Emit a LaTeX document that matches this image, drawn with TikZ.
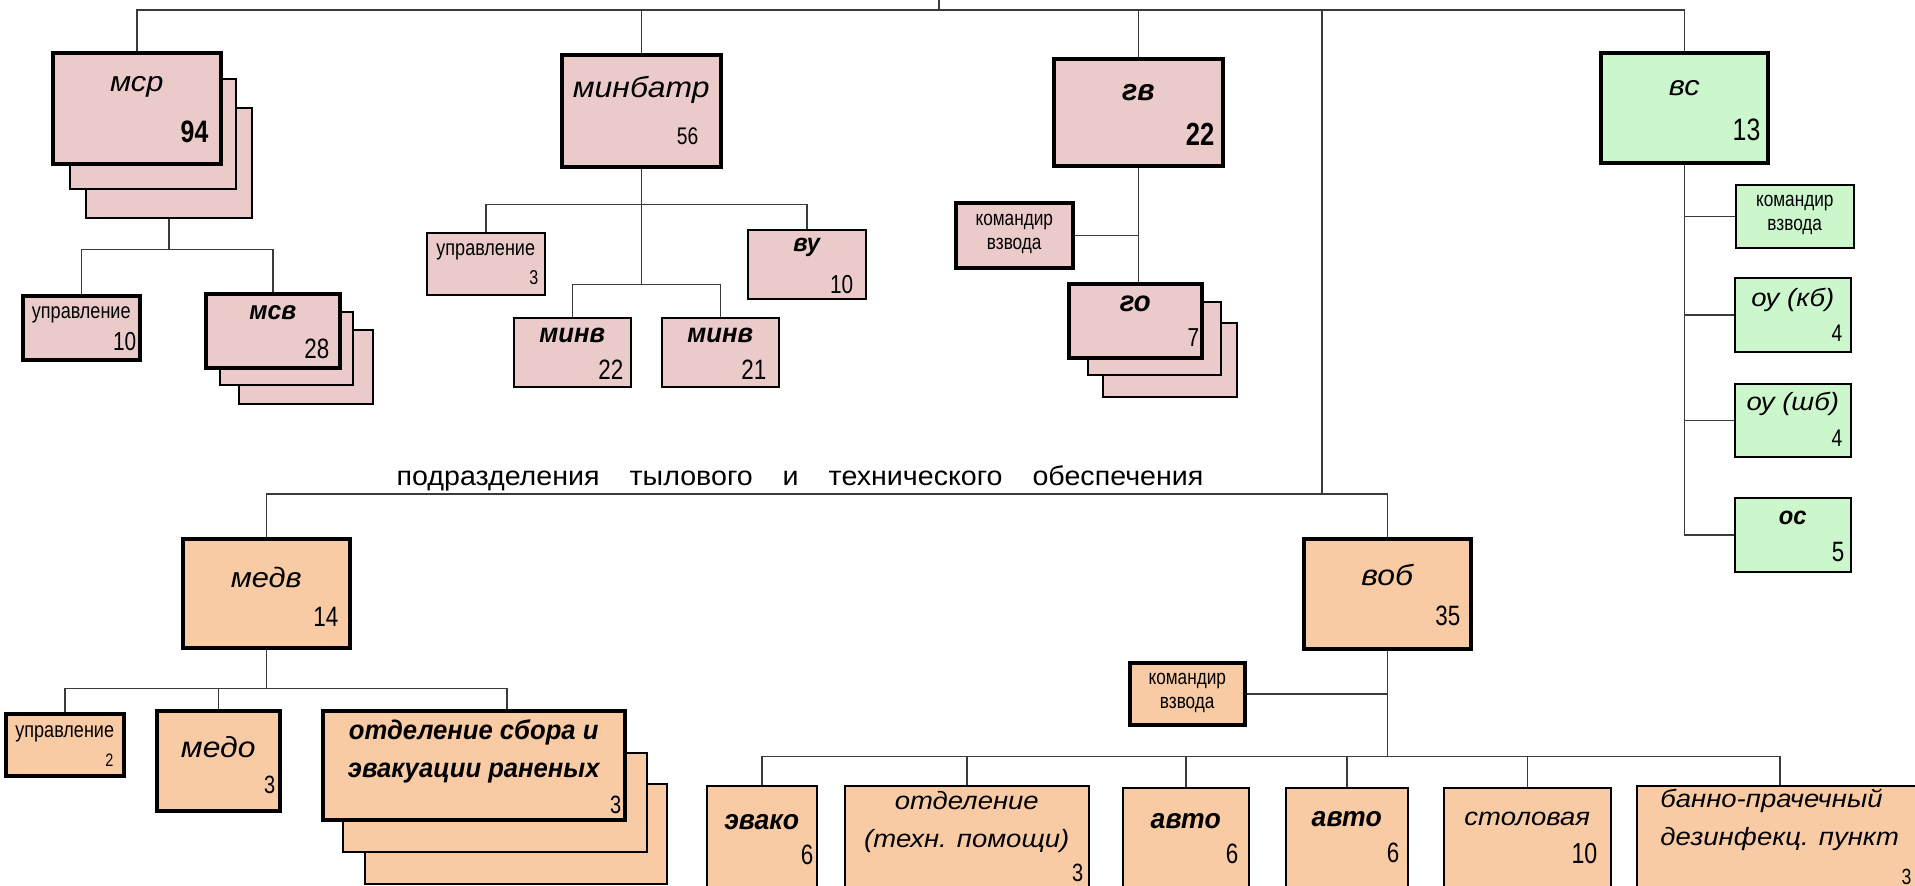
\documentclass[tikz,border=0pt]{standalone}
\usepackage{fontspec}
\setmainfont{Liberation Sans}
\usetikzlibrary{positioning, calc}
\newfontfamily\lblfont[FakeStretch=1.1]{Liberation Sans}
\newfontfamily\boldfont[FakeStretch=0.95]{Liberation Sans}
\newfontfamily\numfont[FakeStretch=0.8]{Liberation Sans}
\newfontfamily\smallfont[FakeStretch=0.82]{Liberation Sans}
\newfontfamily\rearfont[FakeStretch=1.06]{Liberation Sans}
\newcommand{\tlab}[1]{\lblfont\itshape\fontsize{#1}{38}\selectfont}
\newcommand{\tbold}[1]{\boldfont\bfseries\itshape\fontsize{#1}{38}\selectfont}
\newcommand{\tnum}[1]{\numfont\fontsize{#1}{#1}\selectfont}
\newcommand{\tsmall}[1]{\smallfont\fontsize{#1}{24}\selectfont}
\definecolor{pinkfill}{HTML}{EBCACA}
\definecolor{peachfill}{HTML}{F9CBA5}
\definecolor{mintfill}{HTML}{CCF7CC}
\definecolor{linegray}{HTML}{3A3A3A}

\begin{document}
\begin{tikzpicture}[x=1pt, y=-1pt,
    box/.style={draw, line width=1.5pt, anchor=north west, inner sep=0pt},
    heavy/.style={line width=3.5pt},
    pinkbox/.style={fill=pinkfill},
    peachbox/.style={fill=peachfill},
    mintbox/.style={fill=mintfill},
    sz/.style 2 args={minimum width=#1pt, minimum height=#2pt},
    ttl/.style={anchor=center, yshift=-#1pt},
    cnt/.style 2 args={anchor=east, xshift=-#1pt, yshift=#2pt},
    link/.style={draw=linegray, line width=1.5pt},
    every label/.style={inner sep=0pt}]
\path[use as bounding box, fill=white] (0,0) rectangle (1915,886);

% first row
\node[box, pinkbox, sz={166}{110}] (msr3) at (85,107) {};
\node[box, pinkbox, sz={166}{110}] (msr2) at (69,78) {};
\node[box, heavy, pinkbox, sz={168}{111},
    label={[ttl=36, font=\tlab{28}]north:мср},
    label={[cnt={14}{34}, font=\tnum{31}\bfseries]south east:94}] (msr) at (51,51) {};
\node[box, heavy, pinkbox, sz={159}{112},
    label={[ttl=37, font=\tlab{29}]north:минбатр},
    label={[cnt={24}{32}, font=\tnum{24}]south east:56}] (minbatr) at (560,53) {};
\node[box, heavy, pinkbox, sz={169}{107},
    label={[ttl=36, font=\tbold{30}]north:гв},
    label={[cnt={10}{33}, font=\tnum{32}\bfseries]south east:22}] (gv) at (1052,57) {};
\node[box, heavy, mintbox, sz={167}{110},
    label={[ttl=37, font=\tlab{28}]north:вс},
    label={[cnt={9}{35}, font=\tnum{31}]south east:13}] (vs) at (1599,51) {};

% msr
\node[box, heavy, pinkbox, sz={117}{64},
    label={[ttl=21, font=\tsmall{22}]north:управление},
    label={[cnt={5}{20}, font=\tnum{26}]south east:10}] (msrupr) at (21,294) {};
\node[box, pinkbox, sz={134}{74}] (msv3) at (238,329) {};
\node[box, pinkbox, sz={133}{73}] (msv2) at (219,311) {};
\node[box, heavy, pinkbox, sz={134}{74},
    label={[ttl=21, font=\tbold{26}]north:мсв},
    label={[cnt={12}{21}, font=\tnum{28}]south east:28}] (msv) at (204,292) {};

% minbatr
\node[box, pinkbox, sz={118}{62},
    label={[ttl=20, font=\tsmall{22}]north:управление},
    label={[cnt={7}{18}, font=\tnum{20}]south east:3}] (minupr) at (426,232) {};
\node[box, pinkbox, sz={118}{69},
    label={[ttl=18, font=\tbold{25}]north:ву},
    label={[cnt={13}{15}, font=\tnum{26}]south east:10}] (vu) at (747,229) {};
\node[box, pinkbox, sz={117}{69},
    label={[ttl=18, font=\tbold{27}]north:минв},
    label={[cnt={8}{18}, font=\tnum{28}]south east:22}] (minv1) at (513,317) {};
\node[box, pinkbox, sz={117}{69},
    label={[ttl=18, font=\tbold{27}]north:минв},
    label={[cnt={13}{18}, font=\tnum{28}]south east:21}] (minv2) at (661,317) {};

% gv
\node[box, heavy, pinkbox, sz={117}{65},
    label={[ttl=33, font=\tsmall{21}, align=center]north:{командир\\взвода}}] (gvkom) at (954,201) {};
\node[box, pinkbox, sz={134}{74}] (go3) at (1102,322) {};
\node[box, pinkbox, sz={133}{73}] (go2) at (1087,301) {};
\node[box, heavy, pinkbox, sz={133}{74},
    label={[ttl=22, font=\tbold{29}]north:го},
    label={[cnt={4}{22}, font=\tnum{26}]south east:7}] (go) at (1067,282) {};

% vs
\node[box, mintbox, sz={118}{63},
    label={[ttl=31, font=\tsmall{21}, align=center]north:{командир\\взвода}}] (vskom) at (1735,184) {};
\node[box, mintbox, sz={116}{74},
    label={[ttl=23, font=\tlab{25}]north:{оу (кб)}},
    label={[cnt={9}{19}, font=\tnum{24}]south east:4}] (oukb) at (1734,277) {};
\node[box, mintbox, sz={116}{73},
    label={[ttl=21, font=\tlab{25}]north:{оу (шб)}},
    label={[cnt={9}{19}, font=\tnum{24}]south east:4}] (oushb) at (1734,383) {};
\node[box, mintbox, sz={116}{74},
    label={[ttl=21, font=\tbold{25}]north:ос},
    label={[cnt={7}{21}, font=\tnum{28}]south east:5}] (os) at (1734,497) {};

% rear units
\node[font=\rearfont\fontsize{27}{27}\selectfont] (rear) at (800,478)
    {подразделения\hspace{30pt}тылового\hspace{30pt}и\hspace{30pt}технического\hspace{30pt}обеспечения};

\node[box, heavy, peachbox, sz={167}{109},
    label={[ttl=40, font=\tlab{28}]north:медв},
    label={[cnt={13}{33}, font=\tnum{28}]south east:14}] (medv) at (181,537) {};
\node[box, heavy, peachbox, sz={118}{62},
    label={[ttl=22, font=\tsmall{22}]north:управление},
    label={[cnt={12}{17}, font=\tnum{18}]south east:2}] (medupr) at (4,712) {};
\node[box, heavy, peachbox, sz={123}{100},
    label={[ttl=38, font=\tlab{29}]north:медо},
    label={[cnt={6}{28}, font=\tnum{25}]south east:3}] (medo) at (155,709) {};
\node[box, peachbox, sz={302}{100}] (sbor3) at (364,783) {};
\node[box, peachbox, sz={304}{99}] (sbor2) at (342,752) {};
\node[box, heavy, peachbox, sz={302}{109},
    label={[ttl=42, font=\tbold{27}, align=center]north:{отделение сбора и\\эвакуации раненых}},
    label={[cnt={5}{17}, font=\tnum{25}]south east:3}] (sbor) at (321,709) {};

\node[box, heavy, peachbox, sz={167}{110},
    label={[ttl=38, font=\tlab{29}]north:воб},
    label={[cnt={12}{35}, font=\tnum{28}]south east:35}] (vob) at (1302,537) {};
\node[box, heavy, peachbox, sz={115}{62},
    label={[ttl=32, font=\tsmall{21}, align=center]north:{командир\\взвода}}] (vobkom) at (1128,661) {};
\node[box, peachbox, sz={110}{115},
    label={[ttl=37, font=\tbold{28}]north:эвако},
    label={[cnt={4}{47}, font=\tnum{28}]south east:6}] (evako) at (706,785) {};
\node[box, peachbox, sz={244}{115},
    label={[ttl=37, font=\tlab{25}, align=center]north:{отделение\\(техн. помощи)}},
    label={[cnt={6}{29}, font=\tnum{25}]south east:3}] (teh) at (844,785) {};
\node[box, peachbox, sz={126}{113},
    label={[ttl=34, font=\tbold{28}]north:авто},
    label={[cnt={11}{48}, font=\tnum{28}]south east:6}] (avto1) at (1122,787) {};
\node[box, peachbox, sz={122}{113},
    label={[ttl=32, font=\tbold{28}]north:авто},
    label={[cnt={9}{49}, font=\tnum{28}]south east:6}] (avto2) at (1285,787) {};
\node[box, peachbox, sz={167}{113},
    label={[ttl=32, font=\tlab{25}]north:столовая},
    label={[cnt={14}{48}, font=\tnum{29}]south east:10}] (stol) at (1443,787) {};
\node[box, peachbox, sz={286}{115},
    label={[ttl=35, font=\tlab{25}, align=left]north:{банно-прачечный\\дезинфекц. пункт}},
    label={[cnt={12}{25}, font=\tnum{22}]south east:3}] (banno) at (1636,785) {};

% connectors
\coordinate (root) at (939,0);
\coordinate (bus) at (939,10);
\coordinate (rearbus) at (1322,494);
\draw[link] (root) -- (bus);
\draw[link] (bus) -| (msr.north);
\draw[link] (bus) -| (minbatr.north);
\draw[link] (bus) -| (gv.north);
\draw[link] (bus) -| (vs.north);
\draw[link] (bus) -| (rearbus);
\draw[link] (rearbus) -| (medv.north);
\draw[link] (rearbus) -| (vob.north);

\draw[link] (msr3.south) -- ++(0,31) coordinate (msrb);
\draw[link] (msrb) -| (msrupr.north);
\draw[link] (msrb) -| (msv.north);

\draw[link] (minbatr.south) -- ++(0,116) coordinate (minb2);
\path (minbatr.south) ++(0,36) coordinate (minb1);
\draw[link] (minb1) -| (minupr.north);
\draw[link] (minb1) -| (vu.north);
\draw[link] (minb2) -| (minv1.north);
\draw[link] (minb2) -| (minv2.north);

\draw[link] (gv.south) -- (gv.south |- go.north);
\draw[link] (gvkom.east) -- (gvkom.east -| gv.south);

\draw[link] (vs.south) |- (os.west);
\draw[link] (vskom.west) -- (vskom.west -| vs.south);
\draw[link] (oukb.west) -- (oukb.west -| vs.south);
\draw[link] (oushb.west) -- (oushb.west -| vs.south);

\draw[link] (medv.south) -- ++(0,39) coordinate (medb);
\draw[link] (medb) -| (medupr.north);
\draw[link] (medb) -| (medo.north);
\draw[link] (medb) -| ([xshift=33pt]sbor.north);

\draw[link] (vob.south) -- ++(0,106) coordinate (vobb);
\draw[link] (vobkom.east) -- (vobkom.east -| vob.south);
\foreach \n in {evako, teh, avto1, avto2, stol, banno}
    \draw[link] (vobb) -| (\n.north);
\end{tikzpicture}
\end{document}
